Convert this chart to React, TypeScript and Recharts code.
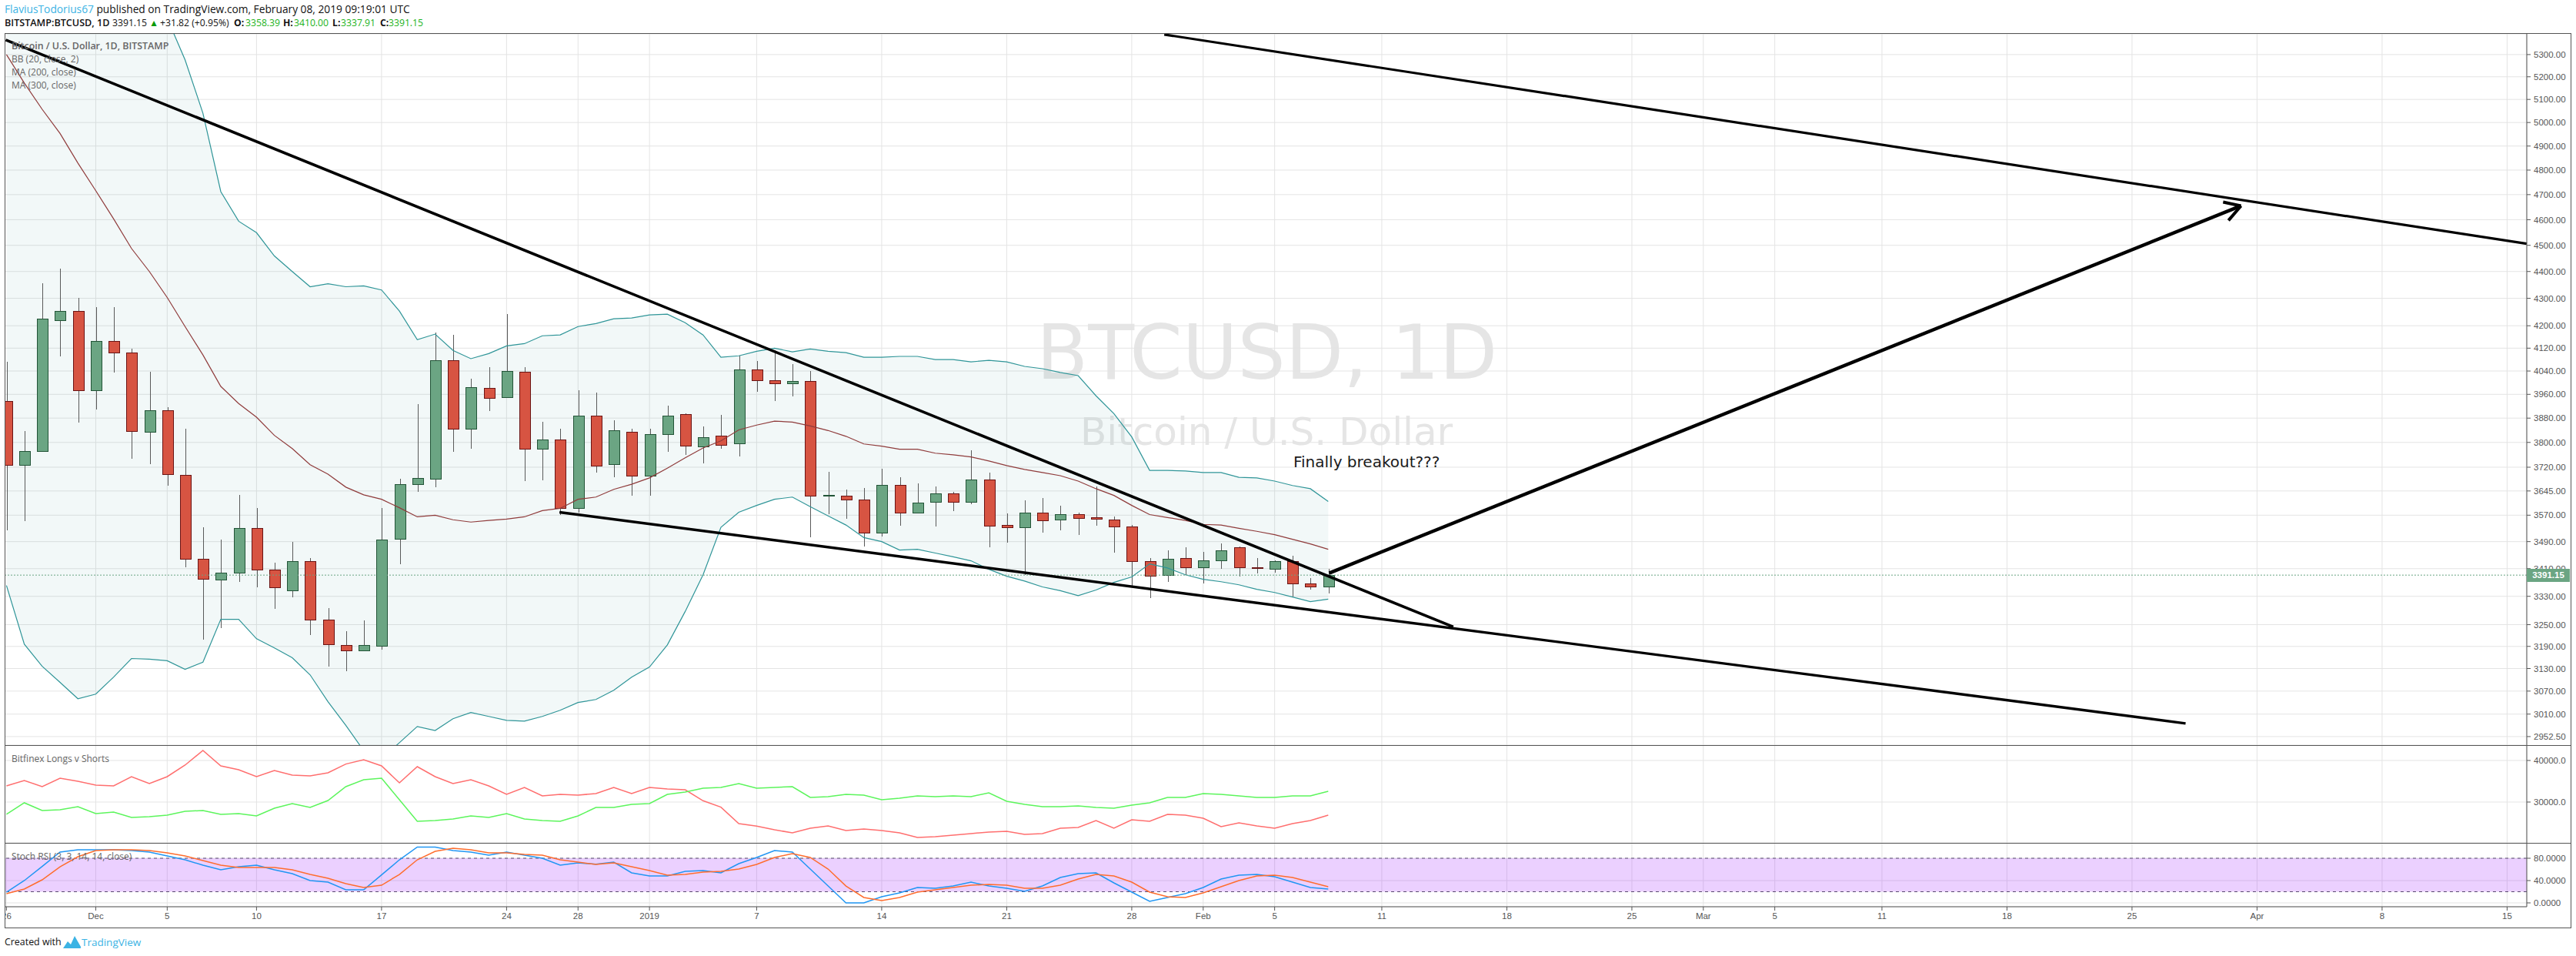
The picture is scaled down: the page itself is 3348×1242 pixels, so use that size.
import {
    Area,
    Bar,
    CartesianGrid,
    ComposedChart,
    Line,
    ReferenceArea,
    ReferenceLine,
    XAxis,
    YAxis,
} from "recharts";

// day 0 = Nov 26 2018, one candle per day
const opens = [3937, 3728, 3772, 4219, 4253, 3973, 4145, 4104, 3834, 3906, 3696, 3438, 3377, 3399, 3530, 3408, 3346, 3431, 3265, 3194, 3180, 3192, 3499, 3666, 3684, 4077, 3844, 3981, 3950, 4037, 3780, 3810, 3591, 3888, 3730, 3834, 3693, 3828, 3893, 3788, 3823, 3798, 4045, 4008, 3997, 4005, 3629, 3631, 3619, 3518, 3664, 3579, 3610, 3638, 3610, 3681, 3540, 3533, 3577, 3556, 3572, 3563, 3556, 3535, 3433, 3392, 3440, 3415, 3435, 3472, 3415, 3410, 3433, 3366, 3358.39];
const highs = [4072, 3836, 4357, 4412, 4303, 4267, 4269, 4117, 4037, 3916, 3846, 3533, 3497, 3633, 3591, 3428, 3490, 3442, 3296, 3231, 3261, 3591, 3684, 3926, 4175, 4167, 4013, 4053, 4242, 4053, 3867, 3844, 3973, 3965, 3872, 3844, 3846, 3921, 3895, 3852, 3890, 4093, 4075, 4112, 4064, 4040, 3705, 3650, 3654, 3715, 3688, 3669, 3659, 3643, 3775, 3703, 3575, 3617, 3622, 3600, 3579, 3659, 3565, 3540, 3440, 3465, 3474, 3460, 3485, 3476, 3440, 3435, 3447, 3383, 3410];
const lows = [3523, 3551, 3772, 4091, 3865, 3908, 4035, 3748, 3730, 3662, 3415, 3209, 3241, 3372, 3355, 3294, 3328, 3222, 3136, 3122, 3178, 3182, 3424, 3643, 3657, 3770, 3780, 3903, 3950, 3676, 3679, 3570, 3577, 3703, 3688, 3631, 3631, 3770, 3760, 3732, 3780, 3755, 3968, 3937, 3952, 3504, 3572, 3558, 3476, 3506, 3537, 3575, 3535, 3582, 3605, 3472, 3488, 3392, 3518, 3525, 3511, 3537, 3456, 3359, 3324, 3372, 3392, 3366, 3410, 3388, 3397, 3399, 3330, 3350, 3337.91];
const closes = [3728, 3772, 4225, 4253, 3973, 4145, 4104, 3836, 3906, 3698, 3438, 3381, 3399, 3530, 3408, 3355, 3431, 3263, 3196, 3180, 3194, 3497, 3666, 3686, 4077, 3844, 3984, 3947, 4040, 3780, 3810, 3593, 3888, 3725, 3839, 3693, 3826, 3888, 3790, 3818, 3792, 4045, 4008, 3997, 4005, 3629, 3633, 3619, 3518, 3664, 3579, 3608, 3638, 3610, 3681, 3537, 3533, 3579, 3554, 3572, 3561, 3558, 3535, 3431, 3390, 3438, 3415, 3435, 3463, 3415, 3412, 3433, 3366, 3359, 3391.15];

// the first ten are above the visible range
const bbUpper = [6950, 6900, 6820, 6700, 6560, 6380, 6180, 5970, 5720, 5468, 5276, 5040, 4712, 4594, 4549, 4459, 4400, 4343, 4354, 4343, 4346, 4331, 4253, 4150, 4170, 4112, 4083, 4101, 4128, 4136, 4164, 4167, 4197, 4208, 4225, 4228, 4239, 4242, 4211, 4167, 4088, 4093, 4109, 4120, 4107, 4117, 4109, 4104, 4088, 4088, 4091, 4091, 4080, 4080, 4072, 4077, 4072, 4056, 4048, 4035, 4024, 3955, 3895, 3818, 3710, 3710, 3708, 3703, 3703, 3688, 3686, 3676, 3662, 3652, 3612];
const bbLower = [3361, 3196, 3136, 3093, 3050, 3062, 3107, 3157, 3155, 3151, 3128, 3147, 3265, 3265, 3211, 3186, 3159, 3113, 3042, 2981, 2917, 2897, 2937, 2978, 2968, 2998, 3014, 3004, 2994, 2992, 3004, 3020, 3040, 3048, 3072, 3107, 3134, 3194, 3287, 3392, 3533, 3579, 3600, 3619, 3626, 3596, 3568, 3540, 3502, 3490, 3465, 3467, 3456, 3445, 3433, 3408, 3388, 3374, 3357, 3346, 3332, 3348, 3370, 3386, 3424, 3412, 3392, 3379, 3372, 3363, 3350, 3341, 3328, 3315, 3322];
const maLine = [5300, 5172, 5057, 4953, 4829, 4716, 4603, 4488, 4400, 4303, 4197, 4096, 3987, 3929, 3883, 3823, 3780, 3728, 3698, 3657, 3633, 3619, 3593, 3565, 3570, 3556, 3549, 3554, 3558, 3565, 3584, 3591, 3619, 3626, 3650, 3666, 3686, 3717, 3750, 3782, 3805, 3841, 3857, 3870, 3867, 3854, 3839, 3820, 3795, 3788, 3778, 3778, 3765, 3760, 3753, 3740, 3725, 3713, 3703, 3693, 3676, 3652, 3631, 3600, 3572, 3563, 3554, 3542, 3540, 3530, 3521, 3511, 3497, 3483, 3467];

const shorts = [33890, 35190, 33700, 35740, 35000, 34070, 33890, 36110, 34440, 36110, 38890, 42410, 38700, 37780, 36110, 37590, 36480, 36300, 37040, 39140, 40190, 38700, 34630, 38520, 36110, 34440, 35370, 33890, 31850, 33520, 31480, 31850, 31670, 32040, 33520, 32040, 33520, 33150, 32960, 30310, 28770, 24820, 24200, 23330, 22590, 23700, 24260, 23150, 23520, 23150, 22590, 21480, 21670, 22040, 22410, 22780, 22960, 22220, 22410, 23700, 23890, 25560, 23700, 25740, 25370, 27040, 26850, 26110, 24070, 25000, 24260, 23700, 24820, 25560, 26850];
const longs = [27040, 29820, 27960, 28150, 28890, 27220, 27590, 26300, 26480, 26850, 27780, 27960, 27040, 27220, 26670, 28520, 29630, 28700, 30370, 33700, 35370, 35740, 30560, 25370, 25560, 25930, 26670, 26300, 27220, 25930, 25560, 25370, 26670, 28700, 28700, 29440, 29630, 31850, 32410, 33330, 33520, 34440, 33330, 33520, 33700, 31110, 31300, 31850, 31670, 30560, 30930, 31480, 31300, 31480, 31300, 32220, 30190, 29440, 28890, 28890, 29070, 28700, 28520, 29260, 29820, 31110, 31110, 32040, 31850, 31480, 31110, 31110, 31480, 31480, 32590];

const stochK = [19.3, 40, 65.3, 91, 95.2, 95.2, 95.2, 93.8, 91, 84.1, 77.2, 67.6, 59.3, 64.8, 67.6, 59.3, 52.4, 40, 37.2, 23.4, 23.4, 50.1, 77.2, 100, 100, 93.8, 91, 85.5, 91, 85.5, 80, 67.6, 71.7, 69.4, 73.1, 53.8, 48.3, 48.3, 56.6, 57.9, 53.8, 70.3, 81.4, 93.8, 91, 60.7, 30.3, 0, 0, 11, 17.9, 27.6, 26.2, 30.3, 37.2, 30.3, 26.2, 20.7, 30.3, 45.5, 52.4, 53.8, 35.9, 19.3, 2.8, 9.7, 16.6, 27.6, 42.8, 49.7, 51, 46.9, 37.2, 27.6, 24.8];
const stochD = [16.6, 24.8, 41.4, 64.8, 82.8, 93.8, 95.2, 95.2, 93.8, 89.7, 84.1, 75.9, 67.6, 63.4, 63.4, 63.4, 59.3, 51, 44.1, 34.5, 27.6, 31.7, 51, 77.2, 92.4, 97.9, 95.2, 89.7, 89.7, 86.9, 85.5, 77.2, 73.1, 69, 71.7, 64.8, 57.9, 49.7, 51, 55.2, 56.6, 60.7, 69, 81.4, 88.3, 81.4, 60.7, 30.3, 9.7, 4.1, 9.7, 19.3, 23.4, 27.6, 31.7, 33.1, 31.7, 26.2, 26.2, 31.7, 42.8, 51, 48.3, 37.2, 19.3, 11, 9.7, 17.9, 29, 40, 48.3, 49.7, 45.5, 37.2, 29];

const xTickDays = [0, 5, 9, 14, 21, 28, 32, 36, 42, 49, 56, 63, 67, 71, 77, 84, 91, 95, 99, 105, 112, 119, 126, 133, 140];
const xTickLabels = ["26", "Dec", "5", "10", "17", "24", "28", "2019", "7", "14", "21", "28", "Feb", "5", "11", "18", "25", "Mar", "5", "11", "18", "25", "Apr", "8", "15"];
const priceTicks = [5300, 5200, 5100, 5000, 4900, 4800, 4700, 4600, 4500, 4400, 4300, 4200, 4120, 4040, 3960, 3880, 3800, 3720, 3645, 3570, 3490, 3410, 3330, 3250, 3190, 3130, 3070, 3010, 2952.5];
const longsTicks = [30000, 40000];
const stochTicks = [0, 40, 80];

// hand drawn trend lines and arrow, as [day, price] pairs
const topWedgeLine = [[-0.04, 5367], [81, 3244]];
const lowerWedgeLine = [[30.96, 3579], [122, 2986]];
const upperChannelLine = [[64.82, 5392], [141.1, 4506]];
const breakoutArrow = [[74.05, 3397], [125.1, 4655]];
const arrowHeadA = [[124.1, 4670], [125.1, 4655]];
const arrowHeadB = [[124.4, 4597], [125.1, 4655]];

const lastClose = 3391.15;
const dayDomain = [-0.103, 141.1];

const priceRows = opens.map((open, i) => ({
    day: i,
    open,
    close: closes[i],
    wick: [lows[i], highs[i]],
    band: [bbLower[i], bbUpper[i]],
    upper: bbUpper[i],
    lower: bbLower[i],
    ma: maLine[i],
}));
const longsRows = longs.map((v, i) => ({ day: i, longs: v, shorts: shorts[i] }));
const stochRows = stochK.map((v, i) => ({ day: i, k: v, d: stochD[i] }));

const GRID = "#e4e4e4";
const FRAME = "#555";
const AXIS_TEXT = { fontFamily: "Liberation Sans", fontSize: 11.5, fill: "#555" };
const UI_FONT = "'Open Sans', sans-serif";
const VALUE_GREEN = "#1bb31b";

function Candle(props: any) {
    const { x, y, width, height, payload } = props;
    const high = payload.wick[1];
    const low = payload.wick[0];
    const toY = (price: number) =>
        y + (height * Math.log(high / price)) / Math.log(high / low);
    const cx = Math.round(x + width / 2) + 0.5;
    const top = Math.round(toY(Math.max(payload.open, payload.close))) + 0.5;
    const bottom = Math.round(toY(Math.min(payload.open, payload.close))) + 0.5;
    const up = payload.close >= payload.open;
    return (
        <g shapeRendering="crispEdges">
            <line x1={cx} x2={cx} y1={y} y2={y + height} stroke="#5a5a5a" />
            <rect
                x={cx - 7}
                y={top}
                width={14}
                height={Math.max(bottom - top, 1)}
                fill={up ? "#6ba583" : "#d75442"}
                stroke={up ? "#225437" : "#6b1414"}
            />
        </g>
    );
}

function Drawn({ points, width = 3 }: { points: number[][]; width?: number }) {
    return (
        <ReferenceLine
            segment={[
                { x: points[0][0], y: points[0][1] },
                { x: points[1][0], y: points[1][1] },
            ]}
            stroke="#000"
            strokeWidth={width}
            ifOverflow="visible"
        />
    );
}

function dayLabel(day: number) {
    return xTickLabels[xTickDays.indexOf(day)] ?? "";
}

function Label({ x, y, children, style }: any) {
    return (
        <div
            style={{
                position: "absolute",
                left: x,
                top: y,
                whiteSpace: "nowrap",
                fontFamily: UI_FONT,
                fontSize: 12,
                lineHeight: "16px",
                color: "#666",
                ...style,
            }}
        >
            {children}
        </div>
    );
}

const hRule = (top: number) => (
    <div style={{ position: "absolute", left: 6, top, width: 3335, height: 1, background: FRAME }} />
);

export default function App() {
    return (
        <div style={{ position: "absolute", left: 0, top: 0, width: 3348, height: 1242, background: "#fff", overflow: "hidden" }}>
            <Label x={6} y={4} style={{ color: "#111", fontSize: 13.75 }}>
                <span style={{ color: "#3bb3e4" }}>FlaviusTodorius67</span> published on TradingView.com, February 08, 2019 09:19:01 UTC
            </Label>
            <Label x={6} y={22} style={{ color: "#111", fontSize: 12.6, fontWeight: 600 }}>BITSTAMP:BTCUSD, 1D</Label>
            <Label x={146} y={22} style={{ color: "#111", fontSize: 12.2 }}>3391.15</Label>
            <Label x={194} y={22} style={{ color: "#0a9a0a", fontSize: 12.2 }}>▲</Label>
            <Label x={208} y={22} style={{ color: "#111", fontSize: 12.2 }}>+31.82 (+0.95%)</Label>
            <Label x={304} y={22} style={{ color: "#111", fontSize: 12.2, fontWeight: 700 }}>O:</Label>
            <Label x={319} y={22} style={{ color: VALUE_GREEN, fontSize: 12.2 }}>3358.39</Label>
            <Label x={368} y={22} style={{ color: "#111", fontSize: 12.2, fontWeight: 700 }}>H:</Label>
            <Label x={382} y={22} style={{ color: VALUE_GREEN, fontSize: 12.2 }}>3410.00</Label>
            <Label x={432} y={22} style={{ color: "#111", fontSize: 12.2, fontWeight: 700 }}>L:</Label>
            <Label x={443} y={22} style={{ color: VALUE_GREEN, fontSize: 12.2 }}>3337.91</Label>
            <Label x={494} y={22} style={{ color: "#111", fontSize: 12.2, fontWeight: 700 }}>C:</Label>
            <Label x={505} y={22} style={{ color: VALUE_GREEN, fontSize: 12.2 }}>3391.15</Label>

            <div style={{ position: "absolute", left: 1347, top: 398, fontFamily: "DejaVu Sans", fontSize: 98, lineHeight: "120px", color: "#e5e5e5", whiteSpace: "nowrap" }}>
                BTCUSD, 1D
            </div>
            <div style={{ position: "absolute", left: 1404, top: 531, fontFamily: "DejaVu Sans", fontSize: 50, lineHeight: "60px", color: "#e5e5e5", whiteSpace: "nowrap" }}>
                Bitcoin / U.S. Dollar
            </div>

            <div style={{ position: "absolute", left: 6, top: 44 }}>
                <ComposedChart width={3335} height={924} data={priceRows} margin={{ top: 0, right: 0, bottom: 0, left: 0 }}>
                    <CartesianGrid stroke={GRID} />
                    <XAxis dataKey="day" type="number" domain={dayDomain} ticks={xTickDays} hide allowDataOverflow />
                    <YAxis
                        orientation="right"
                        width={57}
                        scale="log"
                        type="number"
                        domain={[2931, 5395]}
                        ticks={priceTicks}
                        interval={0}
                        allowDataOverflow
                        tick={AXIS_TEXT}
                        tickFormatter={(v: number) => v.toFixed(2)}
                        stroke={FRAME}
                        tickSize={5}
                        tickMargin={4}
                    />
                    <Area dataKey="band" stroke="none" fill="#1f8f8f" fillOpacity={0.06} isAnimationActive={false} />
                    <Line dataKey="upper" stroke="#2f9598" strokeWidth={1.2} dot={false} isAnimationActive={false} />
                    <Line dataKey="lower" stroke="#2f9598" strokeWidth={1.2} dot={false} isAnimationActive={false} />
                    <Line dataKey="ma" stroke="#8f3b3b" strokeWidth={1.2} dot={false} isAnimationActive={false} />
                    <ReferenceLine y={lastClose} stroke="#6ba583" strokeDasharray="2 2" />
                    <Bar dataKey="wick" barSize={16} shape={<Candle />} isAnimationActive={false} />
                    {Drawn({ points: topWedgeLine, width: 3.6 })}
                    {Drawn({ points: lowerWedgeLine, width: 3.4 })}
                    {Drawn({ points: upperChannelLine, width: 3.2 })}
                    {Drawn({ points: breakoutArrow, width: 4.5 })}
                    {Drawn({ points: arrowHeadA, width: 4 })}
                    {Drawn({ points: arrowHeadB, width: 4 })}
                </ComposedChart>
            </div>

            <div style={{ position: "absolute", left: 6, top: 968 }}>
                <ComposedChart width={3335} height={127} data={longsRows} margin={{ top: 0, right: 0, bottom: 0, left: 0 }}>
                    <CartesianGrid stroke={GRID} />
                    <XAxis dataKey="day" type="number" domain={dayDomain} ticks={xTickDays} hide allowDataOverflow />
                    <YAxis
                        orientation="right"
                        width={57}
                        type="number"
                        domain={[20185, 43700]}
                        ticks={longsTicks}
                        allowDataOverflow
                        tick={AXIS_TEXT}
                        tickFormatter={(v: number) => v.toFixed(1)}
                        stroke={FRAME}
                        tickSize={5}
                        tickMargin={4}
                    />
                    <Line dataKey="shorts" stroke="#ff6f6f" strokeWidth={1.5} dot={false} isAnimationActive={false} />
                    <Line dataKey="longs" stroke="#5cf55c" strokeWidth={1.5} dot={false} isAnimationActive={false} />
                </ComposedChart>
            </div>

            <div style={{ position: "absolute", left: 6, top: 1095 }}>
                <ComposedChart width={3335} height={110} data={stochRows} margin={{ top: 0, right: 0, bottom: 0, left: 0 }}>
                    <CartesianGrid stroke={GRID} />
                    <ReferenceArea y1={20} y2={80} fill="#9915ff" fillOpacity={0.2} stroke="none" />
                    <ReferenceLine y={80} stroke="#5b4a70" strokeDasharray="4 4" />
                    <ReferenceLine y={20} stroke="#5b4a70" strokeDasharray="4 4" />
                    <XAxis
                        dataKey="day"
                        type="number"
                        domain={dayDomain}
                        ticks={xTickDays}
                        interval={0}
                        allowDataOverflow
                        height={27}
                        tick={AXIS_TEXT}
                        tickFormatter={dayLabel}
                        stroke={FRAME}
                        tickSize={5}
                        tickMargin={3}
                    />
                    <YAxis
                        orientation="right"
                        width={57}
                        type="number"
                        domain={[-6.9, 107.6]}
                        ticks={stochTicks}
                        allowDataOverflow
                        tick={AXIS_TEXT}
                        tickFormatter={(v: number) => v.toFixed(4)}
                        stroke={FRAME}
                        tickSize={5}
                        tickMargin={4}
                    />
                    <Line dataKey="k" stroke="#2196f3" strokeWidth={1.5} dot={false} isAnimationActive={false} />
                    <Line dataKey="d" stroke="#ff6d2e" strokeWidth={1.5} dot={false} isAnimationActive={false} />
                </ComposedChart>
            </div>

            {/* pane frame */}
            <div style={{ position: "absolute", left: 6, top: 43, width: 3334, height: 1161, border: `1px solid ${FRAME}` }} />
            {hRule(968)}
            {hRule(1095)}

            <div style={{ position: "absolute", left: 3284, top: 739, width: 56, height: 17, background: "#6ba583", color: "#fff", fontFamily: "Liberation Sans", fontSize: 11.5, fontWeight: 700, lineHeight: "17px", textAlign: "center" }}>
                3391.15
            </div>

            <Label x={15} y={52} style={{ fontWeight: 600, fontSize: 12.4 }}>Bitcoin / U.S. Dollar, 1D, BITSTAMP</Label>
            <Label x={15} y={69}>BB (20, close, 2)</Label>
            <Label x={15} y={86}>MA (200, close)</Label>
            <Label x={15} y={103}>MA (300, close)</Label>
            <Label x={15} y={978}>Bitfinex Longs v Shorts</Label>
            <Label x={15} y={1105}>Stoch RSI (3, 3, 14, 14, close)</Label>

            <div style={{ position: "absolute", left: 1681, top: 588, fontFamily: "DejaVu Sans", fontSize: 20, lineHeight: "24px", color: "#1a1a1a", whiteSpace: "nowrap" }}>
                Finally breakout???
            </div>

            <Label x={6} y={1216} style={{ color: "#111", fontSize: 12.4 }}>Created with</Label>
            <svg style={{ position: "absolute", left: 82, top: 1214 }} width={24} height={20} viewBox="0 0 24 20">
                <path d="M0 18 L6 9 L10 13 L15 2 L23 16 Q24 18 21 18 Z" fill="#3bb3e4" />
            </svg>
            <Label x={106} y={1216} style={{ color: "#3bb3e4", fontSize: 13.5 }}>TradingView</Label>
        </div>
    );
}
